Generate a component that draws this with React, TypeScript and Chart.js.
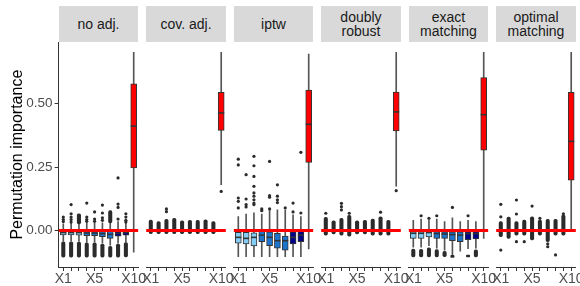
import React, { useEffect, useRef } from 'react';
import { Chart, registerables } from 'chart.js';

Chart.register(...registerables);

// ---------- data ----------
const categories = ['X1', 'X2', 'X3', 'X4', 'X5', 'X6', 'X7', 'X8', 'X9', 'X10'];
const labeledCategories = ['X1', 'X5', 'X10'];
const panelTitles = ['no adj.', 'cov. adj.', 'iptw', 'doubly\nrobust', 'exact\nmatching', 'optimal\nmatching'];
const yTickValues = [0, 0.25, 0.5];
const yAxisTitle = 'Permutation importance';
const boxFills = ['#86cdf6', '#86cdf6', '#86cdf6', '#1c74cc', '#1c74cc', '#1c74cc', '#1c74cc', '#00008b', '#00008b', '#ff0000'];

// one row per panel, one value per category
const q1 = [
  [-0.017, -0.017, -0.018, -0.020, -0.020, -0.024, -0.031, -0.022, -0.018, 0.246],
  [-0.003, -0.003, -0.003, -0.003, -0.003, -0.003, -0.003, -0.003, -0.003, 0.394],
  [-0.050, -0.053, -0.061, -0.044, -0.060, -0.070, -0.077, -0.053, -0.044, 0.268],
  [-0.003, -0.003, -0.003, -0.003, -0.003, -0.003, -0.003, -0.003, -0.003, 0.392],
  [-0.031, -0.031, -0.025, -0.031, -0.031, -0.040, -0.044, -0.036, -0.033, 0.316],
  [-0.003, -0.003, -0.003, -0.003, -0.003, -0.003, -0.003, -0.003, -0.003, 0.198],
];
const median = [
  [-0.008, -0.008, -0.008, -0.010, -0.010, -0.012, -0.015, -0.011, -0.008, 0.411],
  [0, 0, 0, 0, 0, 0, 0, 0, 0, 0.463],
  [-0.027, -0.031, -0.027, -0.018, -0.027, -0.040, -0.040, -0.027, -0.018, 0.418],
  [0, 0, 0, 0, 0, 0, 0, 0, 0, 0.467],
  [-0.011, -0.011, -0.008, -0.012, -0.014, -0.016, -0.018, -0.012, -0.012, 0.456],
  [0, 0, 0, 0, 0, 0, 0, 0, 0, 0.351],
];
const q3 = [
  [-0.002, -0.002, -0.002, -0.002, -0.002, -0.003, -0.003, -0.002, -0.002, 0.577],
  [0.003, 0.003, 0.003, 0.003, 0.003, 0.003, 0.003, 0.003, 0.003, 0.544],
  [-0.007, -0.007, -0.009, -0.002, -0.005, -0.011, -0.022, -0.005, -0.002, 0.553],
  [0.003, 0.003, 0.003, 0.003, 0.003, 0.003, 0.003, 0.003, 0.003, 0.545],
  [-0.004, -0.004, -0.002, -0.004, -0.005, -0.005, -0.005, -0.004, -0.004, 0.602],
  [0.003, 0.003, 0.003, 0.003, 0.003, 0.003, 0.003, 0.003, 0.003, 0.544],
];
const whiskerHigh = [
  [0.026, 0.028, 0.024, 0.030, 0.030, 0.030, 0.028, 0.035, 0.028, 0.702],
  [0.010, 0.010, 0.010, 0.010, 0.010, 0.010, 0.010, 0.010, 0.010, 0.702],
  [0.055, 0.065, 0.070, 0.065, 0.078, 0.081, 0.080, 0.062, 0.055, 0.695],
  [0.010, 0.010, 0.010, 0.010, 0.010, 0.010, 0.010, 0.010, 0.010, 0.702],
  [0.040, 0.045, 0.040, 0.045, 0.035, 0.050, 0.035, 0.040, 0.035, 0.702],
  [0.010, 0.010, 0.010, 0.010, 0.010, 0.010, 0.010, 0.010, 0.010, 0.702],
];
const whiskerLow = [
  [-0.042, -0.042, -0.043, -0.046, -0.046, -0.050, -0.058, -0.050, -0.045, -0.085],
  [-0.010, -0.010, -0.010, -0.010, -0.010, -0.010, -0.010, -0.010, -0.010, 0.180],
  [-0.103, -0.103, -0.103, -0.103, -0.103, -0.103, -0.103, -0.103, -0.103, -0.073],
  [-0.010, -0.010, -0.010, -0.010, -0.010, -0.010, -0.010, -0.010, -0.010, 0.175],
  [-0.066, -0.066, -0.060, -0.070, -0.077, -0.096, -0.081, -0.072, -0.070, -0.031],
  [-0.010, -0.010, -0.010, -0.010, -0.010, -0.010, -0.010, -0.010, -0.010, 0.000],
];

// dense runs of overlapping outliers: [category index, low, high]
const outlierRuns: [number, number, number][][] = [
  [[0, -0.105, -0.045], [1, -0.105, -0.045], [2, -0.105, -0.046], [3, -0.105, -0.049], [4, -0.105, -0.049],
   [5, -0.105, -0.053], [6, -0.105, -0.062], [7, -0.105, -0.053], [8, -0.104, -0.048],
   [2, 0.026, 0.066], [6, 0.030, 0.078]],
  [[0, -0.012, 0.041], [1, -0.012, 0.035], [2, -0.012, 0.044], [3, -0.012, 0.048], [4, -0.012, 0.038],
   [5, -0.012, 0.040], [6, -0.012, 0.040], [7, -0.012, 0.042], [8, -0.012, 0.035]],
  [],
  [[0, -0.018, 0.052], [1, -0.013, 0.038], [2, -0.018, 0.048], [3, -0.022, 0.060], [4, -0.013, 0.038],
   [5, -0.013, 0.040], [6, -0.018, 0.045], [7, -0.018, 0.054], [8, -0.018, 0.040]],
  [[0, -0.104, -0.073], [1, -0.104, -0.074], [2, -0.104, -0.068], [3, -0.104, -0.075], [4, -0.103, -0.082],
   [5, -0.106, -0.098], [7, -0.104, -0.097], [8, -0.104, -0.076]],
  [[0, -0.024, 0.035], [1, -0.031, 0.053], [2, -0.018, 0.035], [3, -0.018, 0.041], [4, -0.037, 0.054],
   [5, -0.018, 0.041], [6, -0.044, 0.044], [7, -0.018, 0.044], [8, -0.018, 0.061]],
];

// single outliers: [category index, value]
const outliers: [number, number][][] = [
  [[0, 0.053], [0, 0.043], [0, 0.035], [1, 0.102], [1, 0.066], [1, 0.053], [1, 0.043], [1, 0.033],
   [3, 0.108], [3, 0.053], [3, 0.043], [3, 0.036], [4, 0.073], [4, 0.045], [4, 0.036],
   [5, 0.100], [5, 0.069], [5, 0.050], [5, 0.040], [7, 0.207], [7, 0.104], [7, 0.091], [7, 0.045],
   [8, 0.066], [8, 0.053], [8, 0.040], [8, 0.033]],
  [[2, 0.085], [2, 0.074], [9, 0.154]],
  [[0, 0.281], [0, 0.258], [0, 0.128], [0, 0.115], [0, 0.089], [1, 0.220], [1, 0.124], [1, 0.102], [1, 0.093],
   [2, 0.292], [2, 0.255], [2, 0.213], [2, 0.174], [2, 0.148], [2, 0.135], [2, 0.121], [2, 0.108], [2, 0.102],
   [3, 0.085], [3, 0.078], [4, 0.272], [4, 0.137], [4, 0.131], [4, 0.085], [5, 0.180], [5, 0.135], [5, 0.121],
   [5, 0.110], [6, 0.089], [7, 0.108], [7, 0.073], [8, 0.308], [8, 0.069]],
  [[0, 0.068], [2, 0.107], [2, 0.094], [2, 0.081], [3, 0.068], [7, 0.072], [9, 0.157]],
  [[1, 0.058], [2, 0.048], [3, 0.058], [5, 0.091], [7, 0.058]],
  [[0, 0.103], [0, 0.054], [0, -0.077], [2, 0.120], [2, 0.065], [2, -0.044], [3, -0.044], [4, 0.096],
   [5, 0.048], [6, -0.053], [6, -0.064], [7, -0.096], [8, 0.066]],
];

// ---------- layout ----------
const FONT = '"Liberation Sans", Arial, Helvetica, sans-serif';
const PANEL_LEFT = [58.6, 146.1, 233.6, 321.1, 408.6, 496.1];
const PANEL_W = 79.8;
const PLOT_TOP = 42.3;
const PLOT_BOTTOM = 267;
const H = 286;
const SIDE_PAD = 12;
const Y_MIN = -0.1437;
const Y_MAX = 0.741;

const medianPlugin = {
  id: 'boxMedians',
  afterDatasetDraw(chart: any, args: any) {
    const ds = chart.data.datasets[args.index];
    if (!ds.medians) return;
    const ctx = chart.ctx;
    const ys = chart.scales.y;
    ctx.save();
    ctx.strokeStyle = '#333333';
    ctx.lineWidth = 1.6;
    args.meta.data.forEach((el: any, i: number) => {
      const py = ys.getPixelForValue(ds.medians[i]);
      const half = el.width / 2;
      ctx.beginPath();
      ctx.moveTo(el.x - half, py);
      ctx.lineTo(el.x + half, py);
      ctx.stroke();
    });
    ctx.restore();
  },
};

function geometry(p: number) {
  const L = PANEL_LEFT[p];
  if (p === 0) {
    const width = Math.ceil(L + PANEL_W + SIDE_PAD);
    return { canvasLeft: 0, width, padLeft: 0, padRight: width - L - PANEL_W };
  }
  const canvasLeft = Math.floor(L - SIDE_PAD);
  const padLeft = L - canvasLeft;
  const width = Math.ceil(padLeft + PANEL_W + SIDE_PAD);
  return { canvasLeft, width, padLeft, padRight: width - padLeft - PANEL_W };
}

function Panel({ p }: { p: number }) {
  const ref = useRef<HTMLCanvasElement | null>(null);
  const g = geometry(p);
  useEffect(() => {
    if (!ref.current) return;
    const idx = categories.map((_, i) => i);
    const first = p === 0;
    const chart = new Chart(ref.current, {
      type: 'bar',
      data: {
        datasets: [
          {
            type: 'line',
            data: [{ x: -0.6, y: 0 }, { x: 9.6, y: 0 }],
            borderColor: '#ff0000',
            borderWidth: 2.8,
            pointRadius: 0,
            order: 0,
          } as any,
          {
            type: 'scatter',
            data: outliers[p].map(([i, v]) => ({ x: i, y: v })),
            pointRadius: 1.6,
            pointBackgroundColor: '#2b2b2b',
            pointBorderWidth: 0,
            order: 1,
          } as any,
          {
            type: 'bar',
            data: outlierRuns[p].map(([i, lo, hi]) => ({ x: i, y: [lo, hi] })),
            backgroundColor: '#2b2b2b',
            barThickness: 3.4,
            borderRadius: 1.7,
            borderSkipped: false,
            grouped: false,
            order: 2,
          } as any,
          {
            type: 'bar',
            data: idx.map((i) => ({ x: i, y: [q1[p][i], q3[p][i]] })),
            backgroundColor: boxFills,
            borderColor: '#333333',
            borderWidth: 1,
            borderSkipped: false,
            barThickness: 6,
            grouped: false,
            medians: median[p],
            order: 3,
          } as any,
          {
            type: 'bar',
            data: idx.map((i) => ({ x: i, y: [whiskerLow[p][i], whiskerHigh[p][i]] })),
            backgroundColor: '#555555',
            barThickness: 1,
            borderWidth: 0,
            grouped: false,
            order: 4,
          } as any,
        ],
      },
      options: {
        responsive: false,
        animation: false,
        events: [],
        layout: { padding: { left: g.padLeft, right: g.padRight, top: PLOT_TOP, bottom: 0 } },
        plugins: { legend: { display: false }, tooltip: { enabled: false } },
        scales: {
          x: {
            type: 'linear',
            min: -0.6,
            max: 9.6,
            offset: false,
            afterBuildTicks: (s: any) => {
              s.ticks = idx.map((v) => ({ value: v }));
            },
            afterFit: (s: any) => {
              s.height = H - PLOT_BOTTOM;
            },
            ticks: {
              autoSkip: false,
              maxRotation: 0,
              minRotation: 0,
              padding: 0,
              color: '#4d4d4d',
              font: { family: FONT, size: 14 },
              callback: (v: any) => {
                const c = categories[Math.round(Number(v))];
                return labeledCategories.includes(c) ? c : '';
              },
            },
            grid: { display: true, drawOnChartArea: false, drawTicks: true, tickLength: 4, tickColor: '#333333', offset: false },
            border: { display: true, color: '#333333', width: 1 },
          },
          y: {
            type: 'linear',
            display: first,
            min: Y_MIN,
            max: Y_MAX,
            afterBuildTicks: (s: any) => {
              s.ticks = yTickValues.map((v) => ({ value: v }));
            },
            afterFit: (s: any) => {
              if (first) s.width = PANEL_LEFT[0];
            },
            ticks: {
              padding: 2,
              color: '#4d4d4d',
              font: { family: FONT, size: 13.5 },
              callback: (v: any) => Number(v).toFixed(2),
            },
            grid: { display: true, drawOnChartArea: false, drawTicks: true, tickLength: 4, tickColor: '#333333' },
            border: { display: true, color: '#333333', width: 1 },
            title: {
              display: true,
              text: yAxisTitle,
              color: '#000000',
              font: { family: FONT, size: 16 },
              padding: { top: 8, bottom: 0 },
            },
          },
        },
      } as any,
      plugins: [medianPlugin],
    });
    return () => chart.destroy();
  }, [p]);
  return (
    <canvas
      ref={ref}
      width={g.width}
      height={H}
      style={{ position: 'absolute', left: g.canvasLeft, top: 0, width: g.width, height: H }}
    />
  );
}

export default function App() {
  return (
    <div style={{ position: 'absolute', left: 0, top: 0, width: 580, height: H, background: '#ffffff', overflow: 'hidden', fontFamily: FONT }}>
      {panelTitles.map((t, p) => (
        <div
          key={'s' + p}
          style={{
            position: 'absolute',
            left: PANEL_LEFT[p],
            top: 6,
            width: PANEL_W,
            height: PLOT_TOP - 6,
            background: '#d9d9d9',
            color: '#1a1a1a',
            fontSize: 14,
            lineHeight: '14px',
            whiteSpace: 'pre-line',
            textAlign: 'center',
            display: 'flex',
            alignItems: 'center',
            justifyContent: 'center',
          }}
        >
          {t}
        </div>
      ))}
      {panelTitles.map((_, p) => (
        <Panel key={'p' + p} p={p} />
      ))}
    </div>
  );
}
